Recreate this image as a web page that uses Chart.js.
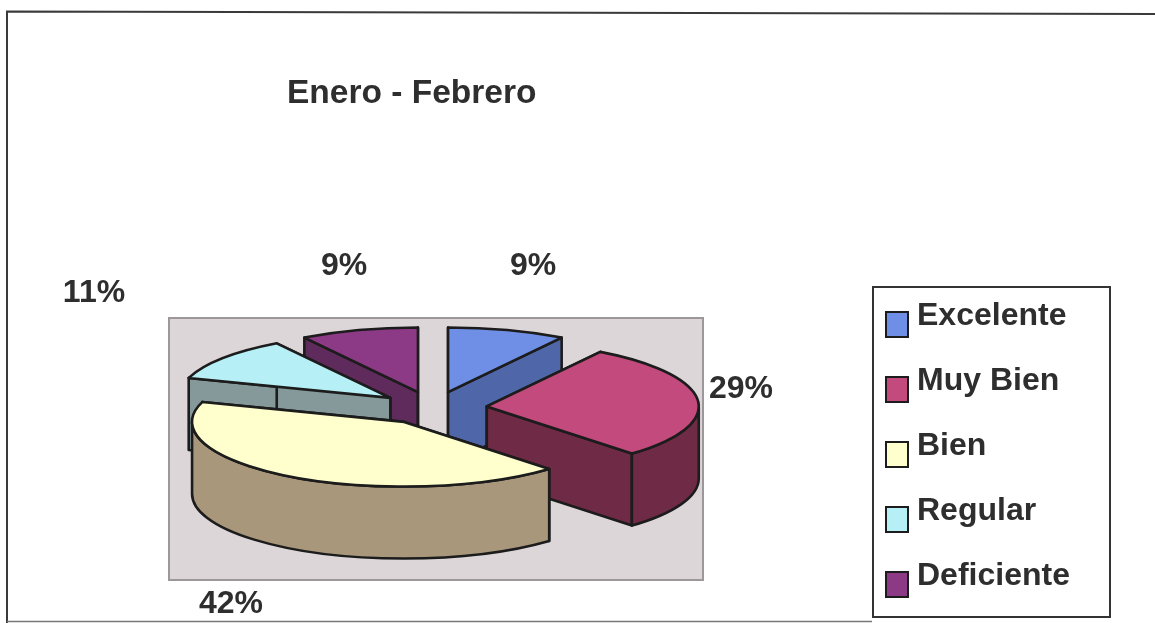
<!DOCTYPE html>
<html lang="es">
<head>
<meta charset="utf-8">
<title>Enero - Febrero</title>
<script src="https://cdn.jsdelivr.net/npm/chart.js@4"></script>
<style>
html,body{margin:0;padding:0;background:#fff;overflow:hidden}
#wrap{position:relative;width:1155px;height:623px}
canvas{display:block}
</style>
</head>
<body>
<div id="wrap"><canvas id="c" width="1155" height="623"></canvas></div>
<script>
const chartTitle = 'Enero - Febrero';
const categories = ['Excelente', 'Muy Bien', 'Bien', 'Regular', 'Deficiente'];
const percentages = [9, 29, 42, 11, 9];
const topColors = ['#6f8fe6', '#c24a7c', '#ffffcd', '#b6f0f6', '#8c3a86'];
const wallColors = ['#4f67a9', '#6f2a45', '#a8977b', '#86999a', '#5f2b5c'];
const paintOrder = [0, 4, 3, 1, 2];
const labelAnchors = [[533, 275], [741, 398], [231, 613], [94, 302], [344, 275]];

const TILT = 0.305, EXPLODE = 54, DEPTH = 72;
const INK = '#1c1c1c', TEXT = '#2e2e2e', FONT = '"Liberation Sans", Arial, sans-serif';

const pie3d = {
  id: 'pie3d',
  afterLayout(chart) {
    const a = chart.chartArea;
    a.left = 221; a.right = 645; a.top = 196; a.bottom = 620;
    a.width = 424; a.height = 424;
    const t = chart.titleBlock;
    t.left = 287; t.right = 287 + t.width; t.top = 75; t.bottom = 75 + t.height;
    const l = chart.legend;
    l.left = 853; l.width = 257; l.right = 1110; l.top = 267.5; l.height = 400; l.bottom = 667.5;
  },
  beforeDatasetsDraw(chart) {
    const ctx = chart.ctx;
    ctx.save();
    ctx.fillStyle = '#ddd6d9';
    ctx.strokeStyle = '#9c979a';
    ctx.lineWidth = 2;
    ctx.fillRect(169, 318, 534, 262);
    ctx.strokeRect(169, 318, 534, 262);
    ctx.restore();
  },
  beforeDatasetDraw() { return false; },
  afterDatasetsDraw(chart) {
    const ctx = chart.ctx;
    const arcs = chart.getDatasetMeta(0).data;
    ctx.save();
    ctx.lineWidth = 2.6;
    ctx.lineJoin = 'round';
    ctx.strokeStyle = INK;
    paintOrder.forEach(i => {
      const arc = arcs[i];
      const { x, y, startAngle: s, endAngle: e, outerRadius: r } = arc;
      const mid = (s + e) / 2;
      const ox = x + Math.cos(mid) * EXPLODE;
      const oy = y + Math.sin(mid) * EXPLODE * TILT;
      const ry = r * TILT;
      const px = t => ox + r * Math.cos(t);
      const py = t => oy + ry * Math.sin(t);
      ctx.fillStyle = wallColors[i];
      [s, e].forEach(t => {
        ctx.beginPath();
        ctx.moveTo(ox, oy);
        ctx.lineTo(px(t), py(t));
        ctx.lineTo(px(t), py(t) + DEPTH);
        ctx.lineTo(ox, oy + DEPTH);
        ctx.closePath();
        ctx.fill();
        ctx.stroke();
      });
      const a0 = Math.max(s, 0), a1 = Math.min(e, Math.PI);
      if (a1 > a0) {
        ctx.beginPath();
        ctx.ellipse(ox, oy, r, ry, 0, a0, a1);
        ctx.ellipse(ox, oy + DEPTH, r, ry, 0, a1, a0, true);
        ctx.closePath();
        ctx.fill();
        ctx.stroke();
      }
      ctx.save();
      ctx.translate(ox, oy);
      ctx.scale(1, TILT);
      ctx.translate(-x, -y);
      arc.draw(ctx);
      ctx.restore();
      ctx.beginPath();
      ctx.moveTo(ox, oy);
      ctx.ellipse(ox, oy, r, ry, 0, s, e);
      ctx.closePath();
      ctx.stroke();
    });
    ctx.restore();
  },
  afterDraw(chart) {
    const ctx = chart.ctx;
    ctx.save();
    // page frame
    ctx.strokeStyle = '#3a3a3a';
    ctx.lineWidth = 2;
    ctx.beginPath();
    ctx.moveTo(7, 623); ctx.lineTo(7, 11.5); ctx.lineTo(1155, 14);
    ctx.stroke();
    ctx.strokeStyle = '#777';
    ctx.lineWidth = 1.5;
    ctx.beginPath();
    ctx.moveTo(7, 621.5); ctx.lineTo(872, 621.5);
    ctx.stroke();
    // legend frame
    ctx.strokeStyle = '#333';
    ctx.lineWidth = 2;
    ctx.strokeRect(873, 287, 237, 330);
    // legend swatches
    ctx.lineWidth = 2;
    ctx.strokeStyle = INK;
    chart.legend.legendHitBoxes.forEach((b, i) => {
      const sy = 312 + 65 * i;
      ctx.fillStyle = topColors[i];
      ctx.fillRect(b.left, sy, 22, 25);
      ctx.strokeRect(b.left, sy, 22, 25);
    });
    // percentage labels
    ctx.fillStyle = TEXT;
    ctx.font = 'bold 32px ' + FONT;
    ctx.textAlign = 'center';
    ctx.textBaseline = 'alphabetic';
    percentages.forEach((v, i) => {
      ctx.fillText(v + '%', labelAnchors[i][0], labelAnchors[i][1]);
    });
    ctx.restore();
  }
};

new Chart(document.getElementById('c'), {
  type: 'pie',
  data: {
    labels: categories,
    datasets: [{
      data: percentages,
      backgroundColor: topColors,
      borderWidth: 0,
      radius: 212
    }]
  },
  options: {
    responsive: false,
    animation: false,
    events: [],
    plugins: {
      tooltip: { enabled: false },
      title: {
        display: true,
        text: chartTitle,
        align: 'start',
        color: TEXT,
        padding: 0,
        font: { family: FONT, size: 33.5, weight: 'bold', lineHeight: 1.1 }
      },
      legend: {
        position: 'right',
        align: 'start',
        labels: {
          boxWidth: 15,
          boxHeight: 15,
          padding: 33,
          color: TEXT,
          font: { family: FONT, size: 32, weight: 'bold', lineHeight: 1 },
          generateLabels: c => c.data.labels.map((text, index) => ({
            text, index,
            fontColor: TEXT,
            fillStyle: 'rgba(0,0,0,0)',
            strokeStyle: 'rgba(0,0,0,0)',
            lineWidth: 0
          }))
        }
      }
    }
  },
  plugins: [pie3d]
});
</script>
</body>
</html>
